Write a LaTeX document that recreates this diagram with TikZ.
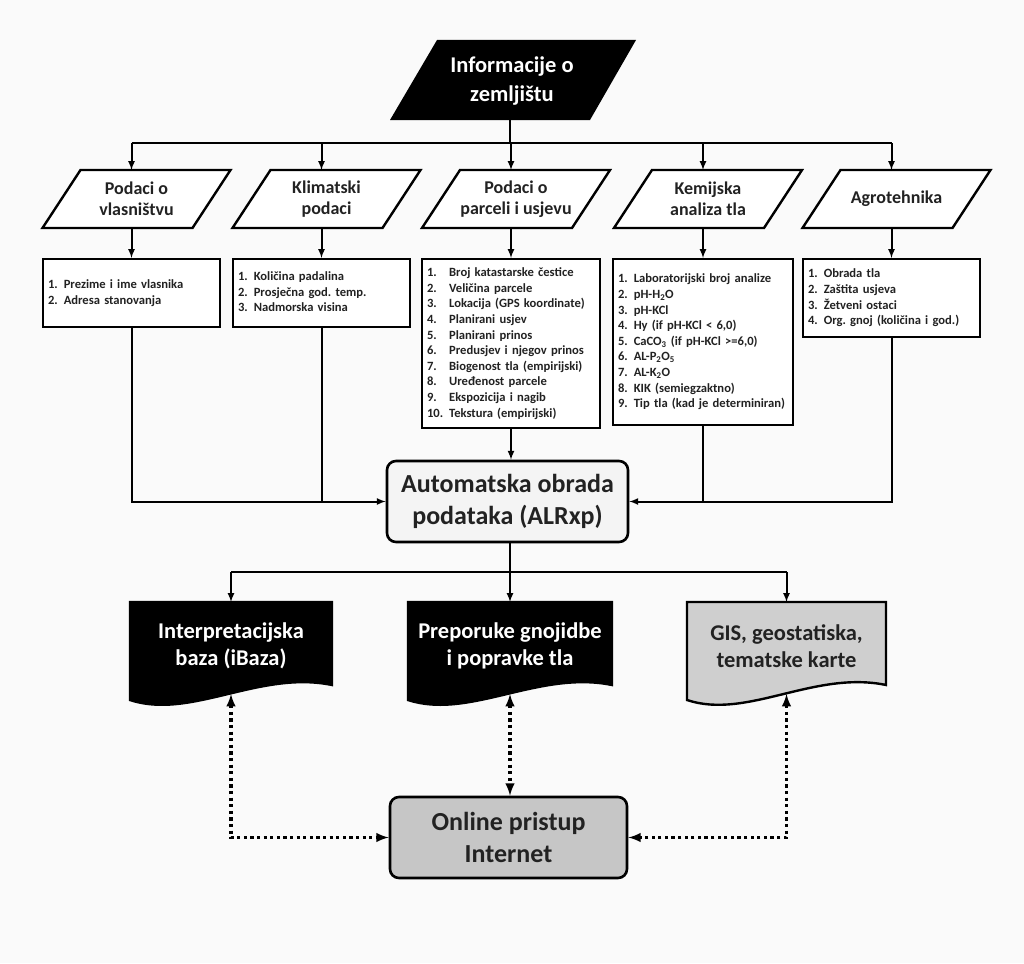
\documentclass[tikz,border=0pt]{standalone}
\usepackage{fontspec}
\setmainfont{Carlito}
\usetikzlibrary{calc}
\frenchspacing

\definecolor{bgcol}{HTML}{FAFAFA}
\definecolor{txtcol}{HTML}{222222}
\definecolor{docgray}{HTML}{CFCFCF}
\definecolor{netgray}{HTML}{C6C6C6}
\definecolor{autofill}{HTML}{F4F4F4}

\tikzset{
  conn/.style={line width=2pt},
  arr/.style={conn, -latex},
  dotline/.style={line width=3.2pt, dash pattern=on 3.2pt off 3.4pt, latex-latex},
  frame/.style={draw, line width=2.4pt, fill=white},
  listbox/.style={frame, anchor=north, inner xsep=5pt, inner ysep=0pt, align=left,
    font=\bfseries\fontsize{12.6}{15.6}\selectfont, text=txtcol},
  headtxt/.style={align=center, font=\bfseries\fontsize{18}{21}\selectfont, text=txtcol},
  doctxt/.style={align=center, font=\bfseries\fontsize{22.5}{27}\selectfont},
  roundbox/.style={draw, line width=2.6pt, rounded corners=9pt, align=center,
    font=\bfseries\fontsize{26}{32}\selectfont, text=txtcol}
}

\newcommand{\itemlist}[1]{\begin{tabular}{@{}l@{\hspace{6pt}}l@{}}#1\end{tabular}}

\newcommand{\paranode}[4]{%
  \draw[frame] (#2-94,#3+29) -- (#2+56,#3+29) -- (#2+94,#3-29) -- (#2-56,#3-29) -- cycle;
  \node[headtxt] (#1) at (#2,#3) {#4};
  \coordinate (#1-n) at (#2-5,#3-29);
  \coordinate (#1-s) at (#2-5,#3+29);
}

\newcommand{\docnode}[6]{%
  \draw[line width=2.4pt, fill=#4] (#2,602) -- (#3,602) -- (#3,685)
    .. controls ({#2+0.64*(#3-#2)},670) and ({#2+0.3*(#3-#2)},720) .. (#2,700) -- cycle;
  \node[doctxt, text=#5] (#1) at ({(#2+#3)/2},646) {#6};
  \coordinate (#1-n) at ({(#2+#3)/2},602);
  \coordinate (#1-s) at ({(#2+#3)/2},694);
}

\begin{document}
\begin{tikzpicture}[x=1pt, y=-1pt]
  \fill[bgcol] (0,0) rectangle (1024,963);
  \useasboundingbox (0,0) rectangle (1024,963);

  \fill (390,120) -- (590,120) -- (636,40) -- (437,40) -- cycle;
  \node[align=center, text=white, font=\bfseries\fontsize{22.5}{29}\selectfont] (info) at (512,81) {Informacije o\\zemljištu};
  \coordinate (info-s) at (510,120);
  \coordinate (bus1) at (510,143);

  \paranode{hown}{136.5}{199}{Podaci o\\vlasništvu}
  \paranode{hclim}{326.5}{199}{Klimatski\\podaci}
  \paranode{hparc}{516}{199}{Podaci o\\parceli i usjevu}
  \paranode{hkem}{708}{199}{Kemijska\\analiza tla}
  \paranode{hagro}{896.5}{199}{Agrotehnika}

  \node[listbox, text width=167pt, minimum height=68pt] (lown) at (131.5,258)
    {\itemlist{1. & Prezime i ime vlasnika\\ 2. & Adresa stanovanja}};
  \node[listbox, text width=167pt, minimum height=68pt] (lclim) at (321.5,258)
    {\itemlist{1. & Količina padalina\\ 2. & Prosječna god. temp.\\ 3. & Nadmorska visina}};
  \node[listbox, text width=168pt, minimum height=169pt] (lparc) at (511,258)
    {\itemlist{1. & Broj katastarske čestice\\ 2. & Veličina parcele\\ 3. & Lokacija (GPS koordinate)\\
      4. & Planirani usjev\\ 5. & Planirani prinos\\ 6. & Predusjev i njegov prinos\\
      7. & Biogenost tla (empirijski)\\ 8. & Uređenost parcele\\ 9. & Ekspozicija i nagib\\
      10. & Tekstura (empirijski)}};
  \node[listbox, text width=170pt, minimum height=166pt] (lkem) at (703,258)
    {\itemlist{1. & Laboratorijski broj analize\\ 2. & pH-H\textsubscript{2}O\\ 3. & pH-KCl\\
      4. & Hy (if pH-KCl < 6,0)\\ 5. & CaCO\textsubscript{3} (if pH-KCl >=6,0)\\
      6. & AL-P\textsubscript{2}O\textsubscript{5}\\ 7. & AL-K\textsubscript{2}O\\
      8. & KIK (semiegzaktno)\\ 9. & Tip tla (kad je determiniran)}};
  \node[listbox, text width=167pt, minimum height=78pt] (lagro) at (891.5,258)
    {\itemlist{1. & Obrada tla\\ 2. & Zaštita usjeva\\ 3. & Žetveni ostaci\\ 4. & Org. gnoj (količina i god.)}};

  \node[roundbox, fill=autofill, minimum width=241pt, minimum height=81pt] (auto) at (507.5,501.5)
    {Automatska obrada\\podataka (ALRxp)};
  \coordinate (bus2) at (510,572);

  \docnode{dint}{130}{332}{black}{white}{Interpretacijska\\baza (iBaza)}
  \docnode{dgno}{408}{612}{black}{white}{Preporuke gnojidbe\\i popravke tla}
  \docnode{dgis}{687}{886}{docgray}{txtcol}{GIS, geostatiska,\\tematske karte}

  \node[roundbox, fill=netgray, minimum width=237pt, minimum height=81pt] (net) at (508.5,837.5)
    {Online pristup\\Internet};

  \draw[conn] (info-s) -- (bus1);
  \draw[conn] (hown-n |- bus1) -- (hagro-n |- bus1);
  \foreach \h in {hown,hclim,hparc,hkem,hagro}
    \draw[arr] (\h-n |- bus1) -- (\h-n);

  \draw[arr] (hown-s) -- (lown.north);
  \draw[arr] (hclim-s) -- (lclim.north);
  \draw[arr] (hparc-s) -- (lparc.north);
  \draw[arr] (hkem-s) -- (lkem.north);
  \draw[arr] (hagro-s) -- (lagro.north);

  \draw[arr] (lown.south) |- (auto.west);
  \draw[conn] (lclim.south) -- (lclim.south |- auto.west);
  \draw[arr] (lparc.south) -- (lparc.south |- auto.north);
  \draw[conn] (lkem.south) -- (lkem.south |- auto.east);
  \draw[arr] (lagro.south) |- (auto.east);

  \draw[conn] (auto.south -| bus2) -- (bus2);
  \draw[conn] (dint-n |- bus2) -- (dgis-n |- bus2);
  \foreach \d in {dint,dgno,dgis}
    \draw[arr] (\d-n |- bus2) -- (\d-n);

  \draw[dotline] (dint-s) |- (net.west);
  \draw[dotline] (dgno-s) -- (dgno-s |- net.north);
  \draw[dotline] (dgis-s) |- (net.east);
\end{tikzpicture}
\end{document}
